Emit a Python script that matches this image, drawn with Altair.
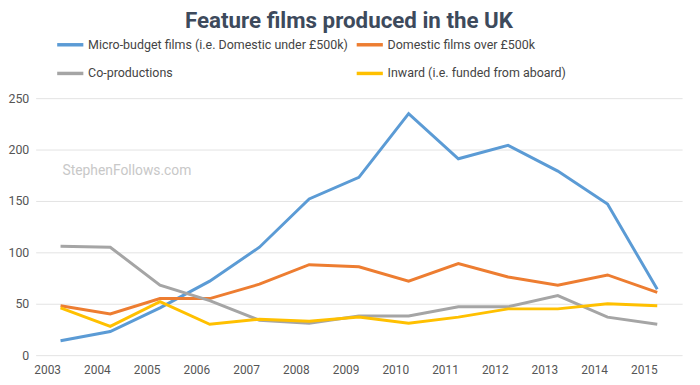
import altair as alt
import pandas as pd

years = [str(y) for y in range(2003, 2016)]
series_names = [
    "Micro-budget films (i.e. Domestic under £500k)",
    "Domestic films over £500k",
    "Co-productions",
    "Inward (i.e. funded from aboard)",
]
micro = [14, 23, 46, 72, 105, 152, 173, 235, 191, 204, 179, 147, 64]
domestic = [48, 40, 55, 55, 69, 88, 86, 72, 89, 76, 68, 78, 61]
coprod = [106, 105, 68, 53, 34, 31, 38, 38, 47, 47, 58, 37, 30]
inward = [46, 28, 52, 30, 35, 33, 37, 31, 37, 45, 45, 50, 48]
colors = ["#5b9bd5", "#ed7d31", "#a5a5a5", "#ffc000"]

rows = []
for name, vals in zip(series_names, [micro, domestic, coprod, inward]):
    for y, v in zip(years, vals):
        rows.append({"Year": y, "Films": v, "Series": name})
df = pd.DataFrame(rows)

font = "Roboto"

lines = alt.Chart(df).mark_line(strokeWidth=3).encode(
    x=alt.X("Year:O", sort=years,
            scale=alt.Scale(type="point", padding=0.5),
            axis=alt.Axis(title=None, labelAngle=0, ticks=False, domain=False,
                          labelFont=font, labelFontSize=12, labelColor="#555555",
                          labelPadding=15)),
    y=alt.Y("Films:Q", scale=alt.Scale(domain=[0, 250], nice=False),
            axis=alt.Axis(title=None, values=[0, 50, 100, 150, 200, 250],
                          ticks=False, domain=False, gridColor="#e3e3e3",
                          labelFont=font, labelFontSize=12.5, labelColor="#555555",
                          labelPadding=7)),
    color=alt.Color("Series:N", sort=series_names,
                    scale=alt.Scale(domain=series_names, range=colors),
                    legend=alt.Legend(title=None, orient="none", legendX=20, legendY=-69,
                                      direction="horizontal",
                                      columns=2, symbolType="stroke", symbolSize=700,
                                      symbolStrokeWidth=3.5, labelFont=font,
                                      labelFontSize=12.6, labelColor="#444444",
                                      labelOffset=3, rowPadding=7, columnPadding=0,
                                      labelLimit=400)),
    order=alt.Order("Year:O"),
)

wm = alt.Chart(pd.DataFrame({"Year": ["2003"], "Films": [179], "t": ["StephenFollows.com"]})).mark_text(
    align="left", baseline="middle", font=font, fontSize=14, color="#c8c8c8", dx=2
).encode(x=alt.X("Year:O", sort=years), y="Films:Q", text="t:N")

chart = alt.layer(wm, lines).properties(
    width=654, height=260,
    autosize="none",
    padding={"left": 28, "top": 89, "right": 10, "bottom": 28},
    title=alt.TitleParams("Feature films produced in the UK", font=font, fontSize=22.6,
                          fontWeight="bold", color="#3d4a5c", anchor="middle",
                          offset=-3, dx=-10),
).configure_view(stroke=None)

chart.save("out.html", embed_options={"renderer": "svg", "actions": False})
